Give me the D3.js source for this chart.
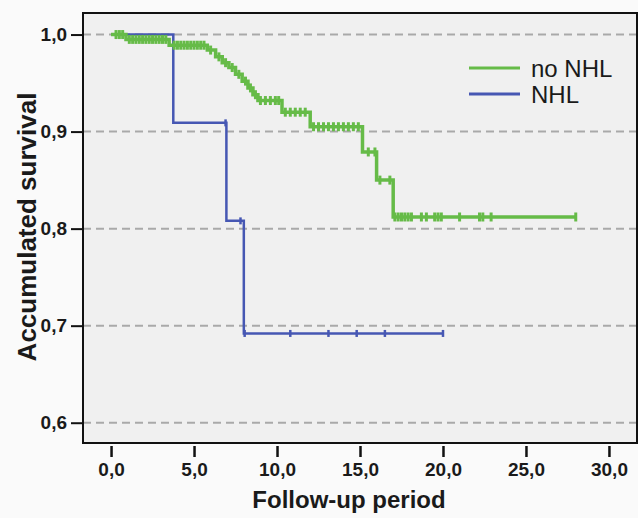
<!DOCTYPE html>
<html>
<head>
    <title>Survival</title>
    <script src="https://d3js.org/d3.v7.js"></script>
    <style>
        body { margin: 0; background: #fafafa; }
        svg text { font-family: "Liberation Sans", Arial, sans-serif; fill: #1a1a1a; }
        .tick text { font-weight: bold; font-size: 19px; }
    </style>
</head>
<body>
    <svg id="chart" width="638" height="518"></svg>
    <script>
        // ticks
        var xTicks = [0, 5, 10, 15, 20, 25, 30];
        var yTicks = [0.6, 0.7, 0.8, 0.9, 1.0];

        // no NHL: step times and survival after each step
        var greenTimes = [0, 0.9, 3.5, 5.8, 6.3, 6.7, 7.1, 7.5, 7.9, 8.25, 8.55, 8.85, 10.3, 12.0, 15.15, 16.0, 17.0];
        var greenSurv = [1.0, 0.995, 0.989, 0.984, 0.977, 0.971, 0.966, 0.959, 0.952, 0.945, 0.938, 0.932, 0.920, 0.905, 0.879, 0.850, 0.812];
        var greenEnd = 28.0;
        var greenCensor = [0.3, 0.5, 0.7, 1.1, 1.3, 1.5, 1.7, 1.9, 2.1, 2.3, 2.5, 2.7, 2.9, 3.1, 3.3,
            3.8, 4.0, 4.2, 4.4, 4.6, 4.8, 5.0, 5.2, 5.4, 5.6, 6.0, 6.5, 6.9, 7.3, 7.7, 8.1, 8.4, 8.7,
            9.0, 9.3, 9.6, 9.9, 10.1, 10.5, 10.8, 11.1, 11.4, 11.7, 12.2, 12.5, 12.8, 13.1, 13.4, 13.7,
            14.0, 14.3, 14.6, 14.9, 15.5, 15.9, 16.2, 16.8, 17.1, 17.3, 17.5, 17.7, 17.9, 18.1, 18.7,
            19.0, 19.5, 19.7, 19.9, 21.0, 22.2, 22.4, 22.9, 28.0];

        // NHL
        var blueTimes = [0, 3.75, 6.95, 8.0];
        var blueSurv = [1.0, 0.909, 0.808, 0.692];
        var blueEnd = 20.0;
        var blueCensor = [6.9, 7.8, 8.05, 10.8, 13.1, 14.8, 16.5, 20.0];

        var legendNames = ["no NHL", "NHL"];
        var colors = ["#66bb48", "#4657b3"];

        var svg = d3.select("#chart");
        var pLeft = 83, pRight = 637, pTop = 13, pBottom = 443;

        var x = d3.scaleLinear().domain([-1.69, 31.69]).range([pLeft, pRight]);
        var y = d3.scaleLinear().domain([0.5791, 1.0222]).range([pBottom, pTop]);

        // plot background
        svg.append("rect")
            .attr("x", pLeft).attr("y", pTop)
            .attr("width", pRight - pLeft).attr("height", pBottom - pTop)
            .attr("fill", "#f0f0f0");

        // dashed grid
        svg.selectAll(".grid")
            .data(yTicks)
            .enter()
            .append("line")
            .attr("x1", pLeft).attr("x2", pRight)
            .attr("y1", function (d) { return y(d); })
            .attr("y2", function (d) { return y(d); })
            .attr("stroke", "#a9a9a9")
            .attr("stroke-width", 2)
            .attr("stroke-dasharray", "8,5");

        function fmt(d) { return d.toFixed(1).replace(".", ","); }

        // axes
        var yAxis = svg.append("g")
            .attr("transform", "translate(" + (pLeft - 1) + ",0)")
            .call(d3.axisLeft(y).tickValues(yTicks).tickFormat(fmt).tickSize(11).tickPadding(4));
        yAxis.select(".domain").remove();
        yAxis.selectAll(".tick line").attr("stroke", "#111").attr("stroke-width", 2);

        var xAxis = svg.append("g")
            .attr("transform", "translate(0," + (pBottom + 3) + ")")
            .call(d3.axisBottom(x).tickValues(xTicks).tickFormat(fmt).tickSize(11).tickPadding(6));
        xAxis.select(".domain").remove();
        xAxis.selectAll(".tick line").attr("stroke", "#111").attr("stroke-width", 2.5);

        // frame
        svg.append("rect")
            .attr("x", pLeft).attr("y", pTop)
            .attr("width", pRight - pLeft).attr("height", pBottom - pTop)
            .attr("fill", "none")
            .attr("stroke", "#111")
            .attr("stroke-width", 2);

        function stepPoints(times, surv, end) {
            var pts = [];
            for (var i = 0; i < times.length; i++) {
                if (i > 0) pts.push([times[i], surv[i - 1]]);
                pts.push([times[i], surv[i]]);
            }
            pts.push([end, surv[surv.length - 1]]);
            return pts;
        }

        function survAt(times, surv, t) {
            var s = surv[0];
            for (var i = 0; i < times.length; i++) {
                if (times[i] <= t) s = surv[i];
            }
            return s;
        }

        var line = d3.line()
            .x(function (d) { return x(d[0]); })
            .y(function (d) { return y(d[1]); });

        function drawCurve(times, surv, end, censor, color, width, markH, markW) {
            svg.append("path")
                .datum(stepPoints(times, surv, end))
                .attr("d", line)
                .attr("fill", "none")
                .attr("stroke", color)
                .attr("stroke-width", width);

            svg.append("g").selectAll("line")
                .data(censor)
                .enter()
                .append("line")
                .attr("x1", function (d) { return x(d); })
                .attr("x2", function (d) { return x(d); })
                .attr("y1", function (d) { return y(survAt(times, surv, d)) - markH; })
                .attr("y2", function (d) { return y(survAt(times, surv, d)) + markH; })
                .attr("stroke", color)
                .attr("stroke-width", markW);
        }

        drawCurve(blueTimes, blueSurv, blueEnd, blueCensor, colors[1], 2.5, 3.5, 2.5);
        drawCurve(greenTimes, greenSurv, greenEnd, greenCensor, colors[0], 3.5, 4.5, 3);

        // legend
        var legend = svg.append("g").selectAll("g")
            .data(legendNames)
            .enter()
            .append("g")
            .attr("transform", function (d, i) { return "translate(469," + (68 + i * 26) + ")"; });

        legend.append("line")
            .attr("x1", 0).attr("x2", 51)
            .attr("stroke", function (d, i) { return colors[i]; })
            .attr("stroke-width", 3);

        legend.append("text")
            .attr("x", 62)
            .attr("y", 8.5)
            .style("font-size", "24px")
            .text(function (d) { return d; });

        // axis titles
        svg.append("text")
            .attr("x", 349)
            .attr("y", 508)
            .attr("text-anchor", "middle")
            .style("font-size", "24px")
            .style("font-weight", "bold")
            .text("Follow-up period");

        svg.append("text")
            .attr("transform", "translate(36,227) rotate(-90)")
            .attr("text-anchor", "middle")
            .style("font-size", "26px")
            .style("font-weight", "bold")
            .text("Accumulated survival");
    </script>
</body>
</html>
